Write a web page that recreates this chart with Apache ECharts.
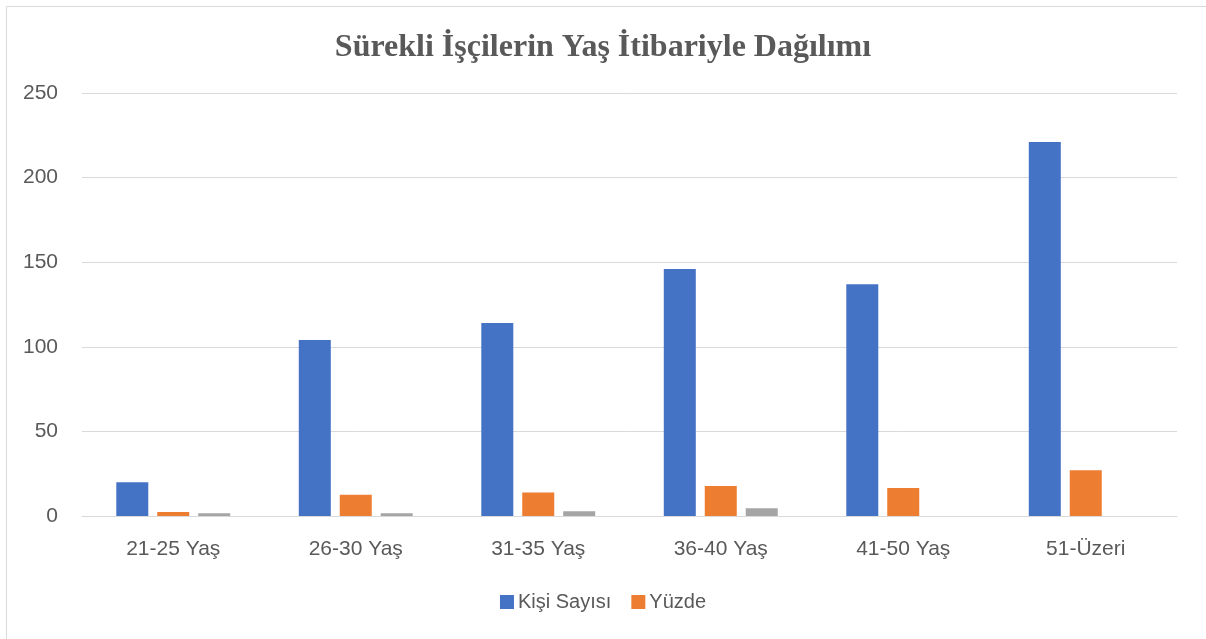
<!DOCTYPE html>
<html>
<head>
<meta charset="utf-8">
<script src="https://cdn.jsdelivr.net/npm/echarts@6/dist/echarts.min.js"></script>
<style>
html,body{margin:0;padding:0;background:#fff;}
#c{width:1206px;height:639px;}
</style>
</head>
<body>
<div id="c"></div>
<script>
const titleText = 'Sürekli İşçilerin Yaş İtibariyle Dağılımı';
const categories = ['21-25 Yaş', '26-30 Yaş', '31-35 Yaş', '36-40 Yaş', '41-50 Yaş', '51-Üzeri'];
const kisiSayisi = [20, 104, 114, 146, 137, 221];
const yuzde = [2.4, 12.5, 13.9, 17.8, 16.6, 27.0];
const ucuncu = [1.6, 1.6, 2.8, 4.6, null, null];
const yTicks = [0, 50, 100, 150, 200, 250];

const labelFont = '"Liberation Sans", Arial, sans-serif';
const chart = echarts.init(document.getElementById('c'), null, {renderer: 'canvas'});
chart.setOption({
  backgroundColor: '#ffffff',
  animation: false,
  graphic: [{
    type: 'rect', left: 4, top: 4,
    shape: {width: 1201, height: 634},
    style: {fill: 'none', stroke: '#d9d9d9', lineWidth: 1}, silent: true
  }],
  title: {
    text: titleText, left: 'center', top: 27,
    textStyle: {fontFamily: '"Liberation Serif", "Times New Roman", serif', fontWeight: 'bold', fontSize: 32, color: '#595959'}
  },
  legend: {
    data: ['Kişi Sayısı', 'Yüzde'], bottom: 22, left: 'center',
    itemWidth: 14, itemHeight: 14, itemGap: 20,
    icon: 'rect',
    textStyle: {fontFamily: labelFont, fontSize: 20, color: '#595959', padding: [0,0,0,-1]}
  },
  grid: {left: 82, right: 29, top: 93, bottom: 123, containLabel: false},
  xAxis: {
    type: 'category', data: categories,
    axisLine: {show: true, lineStyle: {color: '#d9d9d9', width: 1}},
    axisTick: {show: false},
    axisLabel: {fontFamily: labelFont, fontSize: 21, color: '#595959', margin: 23}
  },
  yAxis: {
    type: 'value', min: yTicks[0], max: yTicks[yTicks.length - 1], interval: 50,
    axisLine: {show: false}, axisTick: {show: false},
    splitLine: {lineStyle: {color: '#d9d9d9', width: 1}},
    axisLabel: {fontFamily: labelFont, fontSize: 21, color: '#595959', margin: 24}
  },
  series: [
    {name: 'Kişi Sayısı', type: 'bar', data: kisiSayisi, barWidth: 32, barGap: '28%', itemStyle: {color: '#4472c4'}},
    {name: 'Yüzde', type: 'bar', data: yuzde, barWidth: 32, barGap: '28%', itemStyle: {color: '#ed7d31'}},
    {name: ' ', type: 'bar', data: ucuncu, barWidth: 32, barGap: '28%', itemStyle: {color: '#a5a5a5'}}
  ]
});
</script>
</body>
</html>
